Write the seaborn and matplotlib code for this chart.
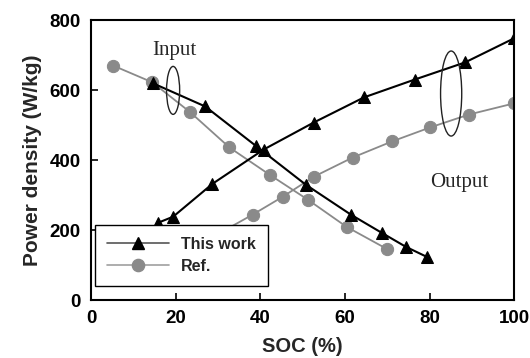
import matplotlib
matplotlib.use("Agg")
import matplotlib.pyplot as plt
import seaborn as sns
import numpy as np
from matplotlib.patches import Ellipse
from matplotlib.lines import Line2D

# ---- data ----
tw_in_soc = [14.7, 27.0, 38.9, 50.7, 61.4, 68.7, 74.4, 79.4]
tw_in_pow = [619, 553, 441, 330, 244, 192, 152, 123]
tw_out_soc = [15.9, 19.4, 28.7, 40.8, 52.6, 64.5, 76.5, 88.4, 100]
tw_out_pow = [221, 238, 332, 430, 507, 579, 630, 679, 748]
ref_in_soc = [5.2, 14.5, 23.5, 32.7, 42.2, 51.2, 60.4, 69.9]
ref_in_pow = [670, 622, 536, 436, 358, 287, 209, 146]
ref_out_soc = [22.0, 30.5, 38.2, 45.3, 52.6, 61.8, 71.1, 80.1, 89.3, 100]
ref_out_pow = [140, 192, 244, 295, 352, 407, 453, 493, 530, 562]
xticks = [0, 20, 40, 60, 80, 100]
yticks = [0, 200, 400, 600, 800]
series_labels = ["This work", "Ref."]

sns.set_theme(style="white")
plt.rcParams['font.family'] = ['Liberation Sans', 'DejaVu Sans']

fig = plt.figure(figsize=(5.30, 3.58), dpi=100)
ax = fig.add_axes([0.1717, 0.162, 0.7985, 0.782])

black = "#000000"
gray = "#8a8a8a"

for xs, ys in [(ref_in_soc, ref_in_pow), (ref_out_soc, ref_out_pow)]:
    sns.lineplot(x=xs, y=ys, ax=ax, color=gray, lw=1.3, marker="o",
                 markersize=8.8, markeredgecolor=gray, markerfacecolor=gray,
                 sort=False, estimator=None, zorder=2)
for xs, ys in [(tw_in_soc, tw_in_pow), (tw_out_soc, tw_out_pow)]:
    sns.lineplot(x=xs, y=ys, ax=ax, color=black, lw=1.5, marker="^",
                 markersize=9, markeredgecolor=black, markerfacecolor=black,
                 sort=False, estimator=None, zorder=3)

ax.set_xlim(0, 100)
ax.set_ylim(0, 800)
ax.set_xticks(xticks)
ax.set_yticks(yticks)
ax.tick_params(axis="both", direction="in", length=5, width=1.2, colors="black",
               labelsize=13.5, pad=7.5, bottom=True, left=True, top=False, right=False)
for lab in ax.get_xticklabels() + ax.get_yticklabels():
    lab.set_fontweight("bold")
for s in ax.spines.values():
    s.set_color("black")
    s.set_linewidth(1.5)

ax.set_xlabel("SOC (%)", fontsize=14.5, fontweight="bold", labelpad=7)
ax.set_ylabel("Power density (W/kg)", fontsize=15, fontweight="bold", labelpad=5)

# ellipses and annotations
ax.add_patch(Ellipse((19.4, 599), 3.1, 137, fill=False, ec="#222222", lw=1.0, zorder=4))
ax.add_patch(Ellipse((85.1, 590), 5.0, 243, fill=False, ec="#222222", lw=1.0, zorder=4))
ax.text(19.6, 714, "Input", fontsize=15, family="Liberation Serif", ha="center", va="center")
ax.text(87.0, 335, "Output", fontsize=15, family="Liberation Serif", ha="center", va="center")

handles = [
    Line2D([], [], color="#555555", lw=1.2, marker="^", markersize=9,
           markerfacecolor=black, markeredgecolor=black),
    Line2D([], [], color="#a0a0a0", lw=1.2, marker="o", markersize=8.8,
           markerfacecolor=gray, markeredgecolor=gray),
]
leg = ax.legend(handles, series_labels, loc="lower left",
                bbox_to_anchor=(0.0095, 0.05), fancybox=False, framealpha=1,
                edgecolor="black", prop={"weight": "bold", "size": 11.5},
                handlelength=3.9, borderpad=0.75, labelspacing=0.45,
                handletextpad=0.75, borderaxespad=0)
leg.get_frame().set_linewidth(1.0)
leg.set_zorder(10)

fig.savefig("out.png", dpi=100)
